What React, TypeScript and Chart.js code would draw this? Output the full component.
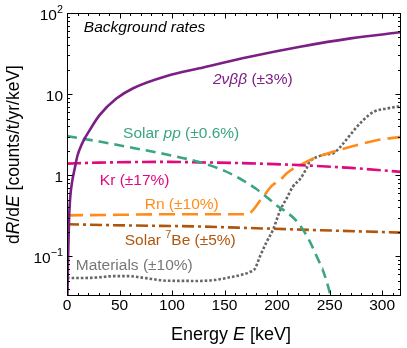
import React, { useEffect, useRef } from "react";
import { Chart, registerables } from "chart.js";

Chart.register(...registerables);

// ---------- data (energy in keV, rate in counts/t/yr/keV) ----------
const DBB_E = [0.4, 1, 2, 3, 5, 7, 10, 14, 17, 21.6, 31, 47, 63, 95, 126, 174, 222, 270, 318];
const DBB_RATE = [0.032, 0.09, 0.3, 0.52, 0.85, 1.15, 1.75, 2.4, 2.86, 3.6, 5.5, 8.8, 11.8, 16.7, 20.8, 28.9, 38.4, 48.7, 57.8];

const PP_E = [0, 31, 63, 95, 126, 150, 167, 180, 190, 200, 209, 218, 225, 232, 238, 243, 247, 251, 254];
const PP_RATE = [3.03, 2.6, 2.17, 1.8, 1.45, 1.13, 0.87, 0.68, 0.54, 0.42, 0.35, 0.278, 0.21, 0.145, 0.098, 0.0705, 0.05, 0.032, 0.02];

const KR_E = [0, 30, 60, 90, 126, 175, 222, 270, 318];
const KR_RATE = [1.39, 1.43, 1.45, 1.46, 1.44, 1.4, 1.33, 1.23, 1.1];

const RN_E = [0, 50, 100, 150, 168, 174, 179, 184, 189, 194, 199, 204, 209, 215, 222, 231, 242, 253, 270, 295, 318];
const RN_RATE = [0.32, 0.325, 0.33, 0.33, 0.33, 0.34, 0.4, 0.49, 0.59, 0.72, 0.81, 0.9, 1.05, 1.2, 1.33, 1.53, 1.75, 1.94, 2.24, 2.7, 2.97];

const BE7_E = [0, 60, 120, 180, 240, 318];
const BE7_RATE = [0.248, 0.24, 0.234, 0.222, 0.21, 0.196];

const MAT_E = [0, 15, 30, 45, 57, 70, 79, 95, 126, 140, 158, 168, 174, 179, 183.5, 190, 196, 203, 209, 215, 222, 228, 231, 238, 246, 254, 263, 272, 282, 292, 305, 318];
const MAT_RATE = [0.054, 0.054, 0.055, 0.057, 0.057, 0.055, 0.053, 0.05, 0.0497, 0.051, 0.056, 0.06, 0.064, 0.0705, 0.098, 0.15, 0.21, 0.37, 0.515, 0.72, 0.9, 1.21, 1.46, 1.68, 1.8, 1.88, 2.46, 3.43, 4.77, 6.05, 6.66, 7.1];

const X_MIN = 0;
const X_MAX = 318;
const Y_MIN = 0.0324;
const Y_MAX = 100;
const X_MAJOR = [0, 50, 100, 150, 200, 250, 300];

const FONT = '"Liberation Sans", Arial, Helvetica, sans-serif';

const C_DBB = "#7b1f85";
const C_PP = "#3aa583";
const C_KR = "#e0097d";
const C_RN = "#ff8c1a";
const C_BE = "#b0560c";
const C_MAT = "#666666";

type Part = { t: string; i?: boolean; sup?: boolean };

// annotation labels anchored in data coordinates
const LABELS: { e: number; r: number; color: string; parts: Part[] }[] = [
  { e: 16, r: 69, color: "#000", parts: [{ t: "Background rates", i: true }] },
  { e: 139, r: 15.7, color: C_DBB, parts: [{ t: "2\u03bd\u03b2\u03b2", i: true }, { t: " (\u00b13%)" }] },
  { e: 53.4, r: 3.39, color: C_PP, parts: [{ t: "Solar " }, { t: "pp", i: true }, { t: " (\u00b10.6%)" }] },
  { e: 31.3, r: 0.88, color: C_KR, parts: [{ t: "Kr (\u00b117%)" }] },
  { e: 74, r: 0.447, color: C_RN, parts: [{ t: "Rn (\u00b110%)" }] },
  { e: 55, r: 0.162, color: C_BE, parts: [{ t: "Solar " }, { t: "7", sup: true }, { t: "Be (\u00b15%)" }] },
  { e: 8.3, r: 0.0797, color: "#777777", parts: [{ t: "Materials (\u00b110%)" }] },
];

const Y_TICK_LABELS: { v: number; parts: Part[] }[] = [
  { v: 100, parts: [{ t: "10" }, { t: "2", sup: true }] },
  { v: 10, parts: [{ t: "10" }] },
  { v: 1, parts: [{ t: "1" }] },
  { v: 0.1, parts: [{ t: "10" }, { t: "\u22121", sup: true }] },
];

const Y_TITLE: Part[] = [{ t: "d" }, { t: "R", i: true }, { t: "/d" }, { t: "E", i: true }, { t: " [counts/t/yr/keV]" }];
const X_TITLE: Part[] = [{ t: "Energy " }, { t: "E", i: true }, { t: " [keV]" }];

function fontFor(p: Part, size: number) {
  const s = p.sup ? size * 0.7 : size;
  return `${p.i ? "italic " : ""}${s}px ${FONT}`;
}

// y is the vertical centre of the capitals
function drawRich(ctx: CanvasRenderingContext2D, parts: Part[], x: number, y: number, size: number, color: string, align: "left" | "center" | "right") {
  const widths = parts.map((p) => {
    ctx.font = fontFor(p, size);
    return ctx.measureText(p.t).width;
  });
  const total = widths.reduce((a, b) => a + b, 0);
  let cx = align === "left" ? x : align === "center" ? x - total / 2 : x - total;
  const base = y + 0.358 * size;
  ctx.fillStyle = color;
  ctx.textAlign = "left";
  ctx.textBaseline = "alphabetic";
  parts.forEach((p, k) => {
    ctx.font = fontFor(p, size);
    ctx.fillText(p.t, cx, p.sup ? base - 0.42 * size : base);
    cx += widths[k];
  });
}

const decorPlugin = {
  id: "decor",
  afterDraw(chart: any) {
    const { ctx, chartArea: a, scales } = chart;
    const xs = scales.x;
    const ys = scales.y;
    ctx.save();
    const L = Math.round(a.left) + 0.5;
    const R = Math.round(a.right) - 0.5;
    const T = Math.round(a.top) + 0.5;
    const B = Math.round(a.bottom) - 0.5;
    ctx.strokeStyle = "#000";
    ctx.lineWidth = 1;
    ctx.setLineDash([]);
    ctx.strokeRect(L, T, R - L, B - T);
    ctx.beginPath();
    for (let v = X_MIN; v <= X_MAX; v += 10) {
      const px = Math.round(xs.getPixelForValue(v)) + 0.5;
      const len = X_MAJOR.includes(v) ? 5 : 2.5;
      ctx.moveTo(px, B);
      ctx.lineTo(px, B - len);
      ctx.moveTo(px, T);
      ctx.lineTo(px, T + len);
    }
    for (let d = -2; d <= 2; d++) {
      for (let m = 1; m <= 9; m++) {
        const v = m * Math.pow(10, d);
        if (v < Y_MIN || v > Y_MAX * 1.0001) continue;
        const py = Math.round(ys.getPixelForValue(v)) + 0.5;
        const len = m === 1 ? 5 : 2.5;
        ctx.moveTo(L, py);
        ctx.lineTo(L + len, py);
        ctx.moveTo(R, py);
        ctx.lineTo(R - len, py);
      }
    }
    ctx.stroke();

    // y tick labels
    Y_TICK_LABELS.forEach((l) => {
      drawRich(ctx, l.parts, a.left - 4, ys.getPixelForValue(l.v) + 1, 15.5, "#000", "right");
    });

    // axis titles
    drawRich(ctx, X_TITLE, (a.left + a.right) / 2 - 3, 334, 18, "#000", "center");
    ctx.save();
    ctx.translate(13, (a.top + a.bottom) / 2);
    ctx.rotate(-Math.PI / 2);
    drawRich(ctx, Y_TITLE, 0, 0, 17.5, "#000", "center");
    ctx.restore();

    // curve labels
    LABELS.forEach((l) => {
      drawRich(ctx, l.parts, xs.getPixelForValue(l.e), ys.getPixelForValue(l.r), 15.5, l.color, "left");
    });
    ctx.restore();
  },
};

function series(es: number[], rs: number[]) {
  return es.map((e, k) => ({ x: e, y: rs[k] }));
}

export default function App() {
  const ref = useRef<HTMLCanvasElement | null>(null);
  useEffect(() => {
    if (!ref.current) return;
    const common = {
      pointRadius: 0,
      fill: false,
      cubicInterpolationMode: "monotone" as const,
      borderCapStyle: "butt" as const,
    };
    const chart = new Chart(ref.current, {
      type: "line",
      data: {
        datasets: [
          { ...common, label: "2vbb", data: series(DBB_E, DBB_RATE), borderColor: C_DBB, borderWidth: 2.6 },
          { ...common, label: "pp", data: series(PP_E, PP_RATE), borderColor: C_PP, borderWidth: 2.6, borderDash: [10, 6] },
          { ...common, label: "Kr", data: series(KR_E, KR_RATE), borderColor: C_KR, borderWidth: 2.6, borderDash: [14, 4, 3, 4] },
          { ...common, label: "Rn", data: series(RN_E, RN_RATE), borderColor: C_RN, borderWidth: 2.6, borderDash: [16, 7] },
          { ...common, label: "7Be", data: series(BE7_E, BE7_RATE), borderColor: C_BE, borderWidth: 2.6, borderDash: [12, 4, 3, 4] },
          { ...common, label: "Materials", data: series(MAT_E, MAT_RATE), borderColor: C_MAT, borderWidth: 2.6, borderDash: [2.6, 2] },
        ],
      },
      options: {
        responsive: false,
        maintainAspectRatio: false,
        devicePixelRatio: 1,
        animation: false,
        events: [],
        layout: { padding: { top: 13, right: 6, left: 0, bottom: 0 } },
        plugins: { legend: { display: false }, tooltip: { enabled: false } },
        scales: {
          x: {
            type: "linear",
            min: X_MIN,
            max: X_MAX,
            grid: { display: false, drawTicks: false },
            border: { display: false },
            ticks: { font: { family: FONT, size: 15.5 }, color: "#000", padding: 0, maxRotation: 0 },
            afterBuildTicks: (s: any) => {
              s.ticks = X_MAJOR.map((v) => ({ value: v }));
            },
            afterFit: (s: any) => {
              s.height = 52;
            },
          },
          y: {
            type: "logarithmic",
            min: Y_MIN,
            max: Y_MAX,
            grid: { display: false, drawTicks: false },
            border: { display: false },
            ticks: { display: false },
            afterFit: (s: any) => {
              s.width = 67;
            },
          },
        },
      },
      plugins: [decorPlugin],
    });
    return () => chart.destroy();
  }, []);
  return (
    <div style={{ position: "absolute", left: 0, top: 0, width: 407, height: 348, background: "#fff" }}>
      <canvas ref={ref} width={407} height={348} style={{ display: "block" }} />
    </div>
  );
}
